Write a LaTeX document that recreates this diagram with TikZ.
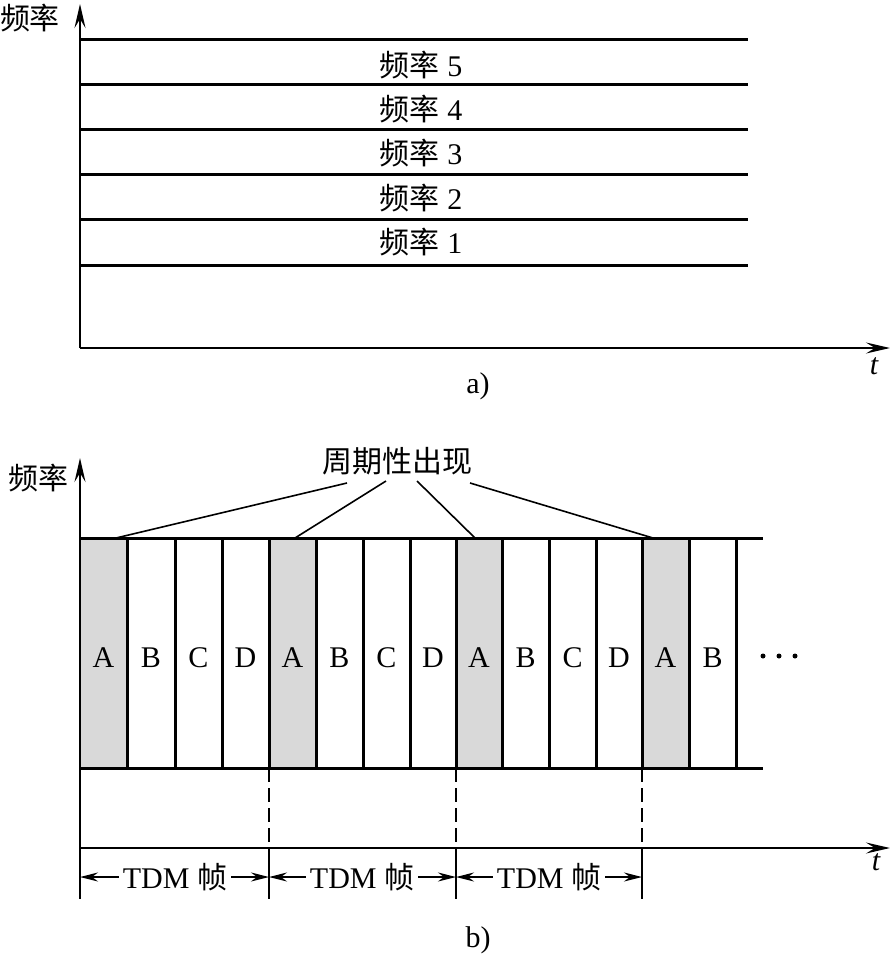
\documentclass[tikz,border=0pt]{standalone}
\usepackage{fontspec}
\setmainfont{Liberation Serif}
\newfontfamily\cjk{Noto Sans CJK SC}
\usetikzlibrary{arrows.meta}
\tikzset{
  axis/.style={line width=2.2pt,-{Stealth[length=24pt,width=11pt,inset=9pt]}},
  band/.style={line width=3pt},
  slot/.style={line width=3pt},
  lbl/.style={font=\fontsize{30}{33}\selectfont,inner sep=0pt},
  dimtick/.style={line width=1.6pt},
  dimarrow/.style={line width=1.8pt,-{Stealth[length=18pt,width=9pt,inset=6pt]}},
  guide/.style={line width=1.6pt,dash pattern=on 14pt off 6pt},
  callout/.style={line width=1.6pt},
  dot/.style={circle,fill,inner sep=0pt,minimum size=5pt},
}
\begin{document}
\begin{tikzpicture}[x=1pt,y=-1pt]
\useasboundingbox (0,0) rectangle (895,959);
% ---------- part a ----------
\coordinate (ao) at (80,348);
\coordinate (ay) at (80,4);
\coordinate (ax) at (890,348);
\draw[axis] (ao) -- (ay);
\draw[axis] (ao) -- (ax);
\node[lbl] (afl) at (30,18) {\cjk 频率};
\node[lbl,font=\fontsize{30}{33}\selectfont\itshape] (at) at (874,366) {t};
\foreach \y/\n in {39/1,84/2,129/3,174/4,219/5,265/6}{
  \coordinate (al\n a) at (80,\y);
  \coordinate (al\n b) at (748,\y);
  \draw[band] (al\n a) -- (al\n b);
}
\foreach \y/\k in {65/5,109/4,153/3,198/2,242/1}{
  \node[lbl] (af\k) at (421,\y) {{\cjk 频率} \k};
}
\node[lbl] (acap) at (478,386) {a)};
% ---------- part b ----------
\coordinate (bo) at (80,848);
\coordinate (by) at (80,458);
\coordinate (bx) at (890,848);
\node[lbl] (bfl) at (39,478) {\cjk 频率};
\node[lbl,font=\fontsize{30}{33}\selectfont\itshape] (bt) at (876,862) {t};
% shaded A slots
\foreach \xa/\xb in {80/127,269/316,456/502,642/689}{
  \fill[gray!30] (\xa,538) rectangle (\xb,768);
}
\draw[axis] (bo) -- (by);
\draw[axis] (bo) -- (bx);
\coordinate (bt1) at (80,538);
\coordinate (bt2) at (763,538);
\coordinate (bb1) at (80,768);
\coordinate (bb2) at (763,768);
\draw[slot] (bt1) -- (bt2);
\draw[slot] (bb1) -- (bb2);
\foreach \x in {127,175,222,269,316,363,410,456,502,549,596,642,689,736}{
  \draw[slot] (\x,538) -- (\x,768);
}
% slot letters
\foreach \x/\l [count=\i] in {103.5/A,151/B,198.5/C,245.5/D,292.5/A,339.5/B,386.5/C,433/D,479/A,525.5/B,572.5/C,619/D,665.5/A,712.5/B}{
  \node[lbl] (s\i) at (\x,658) {\l};
}
\node[dot] (d1) at (763,656) {};
\node[dot] (d2) at (779,656) {};
\node[dot] (d3) at (795,656) {};
% callout
\node[lbl] (per) at (397,461) {\cjk 周期性出现};
\coordinate (c1s) at (347,483);
\coordinate (c2s) at (386,481);
\coordinate (c3s) at (417,481);
\coordinate (c4s) at (470,483);
\coordinate (c1e) at (116,538);
\coordinate (c2e) at (295,538);
\coordinate (c3e) at (475,538);
\coordinate (c4e) at (653,538);
\draw[callout] (c1s) -- (c1e);
\draw[callout] (c2s) -- (c2e);
\draw[callout] (c3s) -- (c3e);
\draw[callout] (c4s) -- (c4e);
% frame guides
\foreach \x/\n in {269/2,456/3,642/4}{
  \coordinate (g\n t) at (\x,768);
  \coordinate (g\n m) at (\x,848);
  \draw[guide] (g\n t) -- (g\n m);
}
\foreach \x/\n in {80/1,269/2,456/3,642/4}{
  \coordinate (k\n t) at (\x,848);
  \coordinate (k\n b) at (\x,899);
  \coordinate (k\n) at (\x,877);
  \draw[dimtick] (k\n t) -- (k\n b);
}
\foreach \c/\a/\b [count=\i] in {175/1/2,362/2/3,549/3/4}{
  \node[lbl,inner xsep=4pt] (f\i) at (\c,877) {TDM {\cjk 帧}};
  \draw[dimarrow] (f\i.west) -- (k\a);
  \draw[dimarrow] (f\i.east) -- (k\b);
}
\node[lbl] (bcap) at (478,940) {b)};
\end{tikzpicture}
\end{document}
